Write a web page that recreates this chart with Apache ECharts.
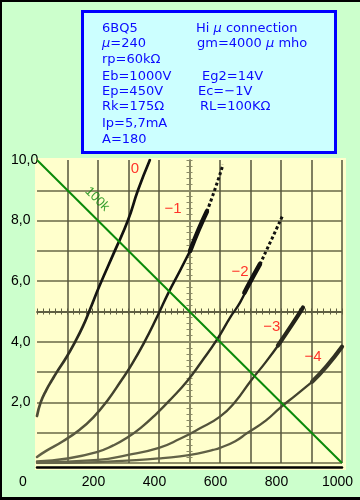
<!DOCTYPE html>
<html><head><meta charset="utf-8">
<script src="https://cdn.jsdelivr.net/npm/echarts@6/dist/echarts.min.js"></script>
<style>html,body{margin:0;padding:0;background:#ccffcc}#c{width:360px;height:500px}</style>
</head><body><div id="c"></div>
<script>
// ---- tick labels ----
const xLabelValues = [0, 200, 400, 600, 800, 1000];
const yLabelValues = [2, 4, 6, 8, 10];
const yLabelTexts = ['2,0', '4,0', '6,0', '8,0', '10,0'];

// ---- plate curves: [Ep (V), Ip (mA)] ----
const curve0 = [[0,1.55],[12,2.0],[30,2.4],[50,2.75],[65,3.0],[97,3.5],[125,4.0],[150,4.5],[171,5.0],[205,5.85],[255,7.0],[298,8.0],[331,9.0],[370,10.0]];
const curveM1 = [[0,0.2],[30,0.4],[85,0.72],[140,1.1],[184,1.5],[230,2.05],[278,2.75],[300,3.08],[350,3.95],[395,4.85],[430,5.6],[469,6.35],[502,7.0]];
const curveM1Thick = [[502,7.0],[530,7.7],[557,8.3]];
const curveM1Dotted = [[557,8.3],[584,9.05],[610,9.85]];
const curveM2 = [[0,0.05],[100,0.15],[196,0.36],[250,0.58],[295,0.83],[345,1.2],[393,1.64],[440,2.12],[492,2.7],[540,3.35],[590,4.07],[633,4.8],[666,5.3],[698,5.96]];
const curveM2Thick = [[680,5.62],[698,5.96],[731,6.56]];
const curveM2Dotted = [[731,6.56],[770,7.4],[807,8.2]];
const curveM3 = [[0,0.02],[200,0.1],[295,0.26],[400,0.5],[469,0.8],[530,1.12],[600,1.53],[650,2.02],[700,2.7],[750,3.33],[797,3.97]];
const curveM3Thick = [[790,3.88],[835,4.55],[872,5.13]];
const curveM4 = [[0,0.0],[200,0.03],[295,0.08],[400,0.15],[469,0.22],[530,0.32],[577,0.43],[600,0.5],[650,0.72],[688,0.98],[750,1.4],[797,1.82],[850,2.25],[902,2.68]];
const curveM4Thick = [[902,2.68],[950,3.2],[1000,3.84]];

// ---- load line 100k ----
const loadLine = [[0,10],[1000,0]];
const loadLabel = [[197,8.71]];
const loadLabelText = ['100k'];

// ---- grid voltage labels ----
const curveLabelText = ['0','\u22121','\u22122','\u22123','\u22124'];
const curveLabelPos = [[321,9.7],[446,8.38],[666,6.32],[770,4.5],[905,3.51]];

// ---- info box text ----
const infoLeft = ['6BQ5','\u03bc=240','rp=60k\u03a9','Eb=1000V','Ep=450V','Rk=175\u03a9','Ip=5,7mA','A=180'];
const infoRight = ['Hi \u03bc connection','gm=4000 \u03bc mho','','Eg2=14V','Ec=\u22121V','RL=100K\u03a9','',''];

const FONT = 'Liberation Sans, Arial, sans-serif';
const INFO_FONT = 'DejaVu Sans';
const rowY = [29,44,60,77,92,107,124,140];
const rightX = [196,197,0,202,198,200,0,0];

const chart = echarts.init(document.getElementById('c'), null, {renderer:'canvas', width:360, height:500});

function curve(data, width, dotted) {
  return {type:'line', data: data, symbol:'none', showSymbol:false, smooth:0.5,
    silent:true, z:2,
    lineStyle:{width: width, type: dotted ? [3,2.5] : 'solid', cap: dotted ? 'butt' : 'round', join:'round'}};
}
const curveSeries = [
  curve(curve0, 2.7), curve(curveM1, 2.5), curve(curveM1Thick, 4.6), curve(curveM1Dotted, 3, true),
  curve(curveM2, 2.4), curve(curveM2Thick, 4.6), curve(curveM2Dotted, 3, true),
  curve(curveM3, 2.3), curve(curveM3Thick, 4.2),
  curve(curveM4, 2.3), curve(curveM4Thick, 4.2)
];

const crossColor = '#5e5e42';
function crossX(pos) {
  return {type:'value', min:0, max:1000, interval:100, position:pos, offset:-151.5,
    axisLine:{show:true, onZero:false, lineStyle:{color:crossColor, width:1.5}},
    axisTick:{show:true, length:3, lineStyle:{color:crossColor, width:1}},
    minorTick:{show:true, splitNumber:5, length:3, lineStyle:{color:crossColor, width:1}},
    axisLabel:{show:false}, splitLine:{show:false}};
}
function crossY(pos) {
  return {type:'value', min:0, max:10, interval:1, position:pos, offset:-152.5,
    axisLine:{show:true, onZero:false, lineStyle:{color:'#8a8a66', width:1.5}},
    axisTick:{show:true, length:3, lineStyle:{color:'#8a8a66', width:1}},
    minorTick:{show:true, splitNumber:5, length:3, lineStyle:{color:'#8a8a66', width:1}},
    axisLabel:{show:false}, splitLine:{show:false}};
}

const xSplitColors = ['rgba(0,0,0,0)'].concat(Array(10).fill('#55553c'));
const ySplitColors = Array(10).fill('#8e8e68').concat(['rgba(0,0,0,0)']);

function muRich(t) { return t.replace(/\u03bc/g, '{m|\u03bc}'); }
const richMu = {m:{fontStyle:'italic', fontSize:13, fontFamily:INFO_FONT, fill:'#0a0aff'}};
const infoGraphics = [];
infoLeft.forEach((t,i) => {
  infoGraphics.push({type:'text', z:20, style:{text:muRich(t), x:102, y:rowY[i], fill:'#0a0aff', fontSize:13, fontFamily:INFO_FONT, verticalAlign:'middle', rich:richMu}});
});
infoRight.forEach((t,i) => {
  if (!t) return;
  infoGraphics.push({type:'text', z:20, style:{text:muRich(t), x:rightX[i], y:rowY[i], fill:'#0a0aff', fontSize:13, fontFamily:INFO_FONT, verticalAlign:'middle', rich:richMu}});
});

const option = {
  animation:false,
  backgroundColor:'#ccffcc',
  grid:{left:37, right:18, top:160, bottom:37},
  xAxis:[
    {type:'value', min:0, max:1000, interval:100, position:'bottom', offset:4,
      axisLine:{show:true, onZero:false, lineStyle:{color:'#000', width:2.5}},
      axisTick:{show:false},
      axisLabel:{color:'#000', fontSize:14, fontFamily:FONT, margin:8,
        formatter: v => xLabelValues.indexOf(v) < 0 ? '' : (v === 0 ? '{z|0}' : '{n|' + v + '}'),
        rich:{z:{padding:[0,28,0,0], fontSize:14, fontFamily:FONT, color:'#000'},
              n:{padding:[0,9,0,0], fontSize:14, fontFamily:FONT, color:'#000'}}},
      splitLine:{show:true, lineStyle:{color:xSplitColors, width:1.5}}},
    crossX('top'), crossX('bottom')
  ],
  yAxis:[
    {type:'value', min:0, max:10, interval:1, position:'left',
      axisLine:{show:false, onZero:false}, axisTick:{show:false},
      axisLabel:{color:'#000', fontSize:14, fontFamily:FONT, align:'left', margin:26,
        formatter: v => { const k = yLabelValues.indexOf(v); return k < 0 ? '' : yLabelTexts[k]; }},
      splitLine:{show:true, lineStyle:{color:ySplitColors, width:2}}},
    crossY('left'), crossY('right')
  ],
  visualMap:{show:false, type:'continuous', dimension:1, min:0, max:6,
    seriesIndex: curveSeries.map((s,i)=>i),
    inRange:{color:['#66664a','#484832','#2a2a1e','#121210']}},
  series: curveSeries.concat([
    {type:'line', data:loadLine, symbol:'none', silent:true, z:3, lineStyle:{color:'#0a8a0a', width:2}},
    {type:'scatter', data: curveLabelPos.map((p,i)=>({value:p, name:curveLabelText[i]})), symbolSize:1,
      itemStyle:{color:'rgba(0,0,0,0)'}, z:5,
      label:{show:true, position:'inside', formatter:'{b}', color:'#ff0000', fontSize:15, fontFamily:FONT}},
    {type:'scatter', data: loadLabel.map((p,i)=>({value:p, name:loadLabelText[i]})), symbolSize:1,
      itemStyle:{color:'rgba(0,0,0,0)'}, z:5,
      label:{show:true, position:'inside', formatter:'{b}', rotate:-45, color:'#0a8a0a', fontSize:13, fontFamily:FONT}}
  ]),
  graphic: [
    {type:'rect', z:-10, silent:true, shape:{x:35, y:158, width:311, height:312}, style:{fill:'#ffffcc'}},
    {type:'rect', z:10, silent:true, shape:{x:82.5, y:11.5, width:253, height:141}, style:{fill:'#ccffff', stroke:'#0000ff', lineWidth:3}},
    {type:'rect', z:30, silent:true, shape:{x:0, y:0, width:2, height:500}, style:{fill:'#000'}},
    {type:'rect', z:30, silent:true, shape:{x:0, y:0, width:360, height:2}, style:{fill:'#000'}},
    {type:'rect', z:30, silent:true, shape:{x:0, y:497, width:360, height:3}, style:{fill:'#000'}}
  ].concat(infoGraphics)
};
chart.setOption(option);
</script>
</body></html>
